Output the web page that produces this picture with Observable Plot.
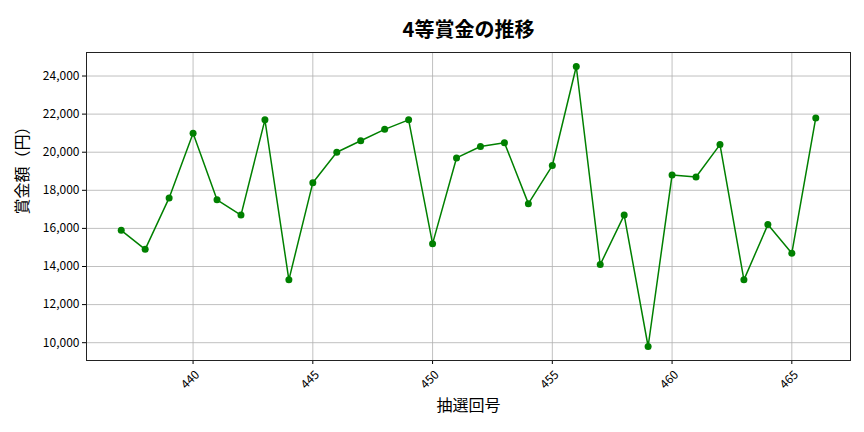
<!DOCTYPE html>
<html><head><meta charset="utf-8">
<script src="https://cdn.jsdelivr.net/npm/d3@7"></script>
<script src="https://cdn.jsdelivr.net/npm/@observablehq/plot@0.6"></script>
<style>body{margin:0;background:#fff;} svg{font-family:"Noto Sans CJK JP","Noto Sans",sans-serif;}</style>
</head><body><div id="chart"></div>
<script>
const draws = [437,438,439,440,441,442,443,444,445,446,447,448,449,450,451,452,453,454,455,456,457,458,459,460,461,462,463,464,465,466];
const prizes = [15900,14900,17600,21000,17500,16700,21700,13300,18400,20000,20600,21200,21700,15200,19700,20300,20500,17300,19300,24500,14100,16700,9800,18800,18700,20400,13300,16200,14700,21800];
const xTicks = [440,445,450,455,460,465];
const yTicks = [10000,12000,14000,16000,18000,20000,22000,24000];
const title = "4等賞金の推移";
const xLabel = "抽選回号";
const yLabel = "賞金額（円）";

const data = draws.map((d,i)=>({draw:d, prize:prizes[i]}));
const fmt = d3.format(",");

const chart = Plot.plot({
  width: 864, height: 432,
  marginTop: 52, marginBottom: 72, marginLeft: 86, marginRight: 14,
  style: {fontFamily: '"Noto Sans CJK JP","Noto Sans",sans-serif', fontSize: "12px", color: "#000"},
  x: {domain: [435.55, 467.45]},
  y: {domain: [9065, 25235]},
  marks: [
    Plot.gridX(xTicks, {stroke: "#b0b0b0", strokeOpacity: 1, strokeWidth: 0.8}),
    Plot.gridY(yTicks, {stroke: "#b0b0b0", strokeOpacity: 1, strokeWidth: 0.8}),
    Plot.axisY(yTicks, {tickSize: 4, tickPadding: 3, tickFormat: fmt, label: null, fontSize: 12}),
    Plot.axisX(xTicks, {tickSize: 4, tickFormat: () => "", label: null}),
    Plot.text(xTicks, {x: d => d, frameAnchor: "bottom", dy: 22, rotate: -45, textAnchor: "middle", text: d => String(d), fontSize: 12}),
    Plot.line(data, {x: "draw", y: "prize", stroke: "#008000", strokeWidth: 1.5}),
    Plot.dot(data, {x: "draw", y: "prize", fill: "#008000", r: 3.5}),
    Plot.frame({stroke: "#222", strokeWidth: 1}),
    Plot.text([title], {frameAnchor: "top", dy: -30, text: d => d, fontSize: 20, fontWeight: "bold"}),
    Plot.text([xLabel], {frameAnchor: "bottom", dy: 50, text: d => d, fontSize: 16}),
    Plot.text([yLabel], {frameAnchor: "left", dx: -64, dy: 8, rotate: -90, text: d => d, fontSize: 16})
  ]
});
document.getElementById("chart").appendChild(chart);
</script></body></html>
